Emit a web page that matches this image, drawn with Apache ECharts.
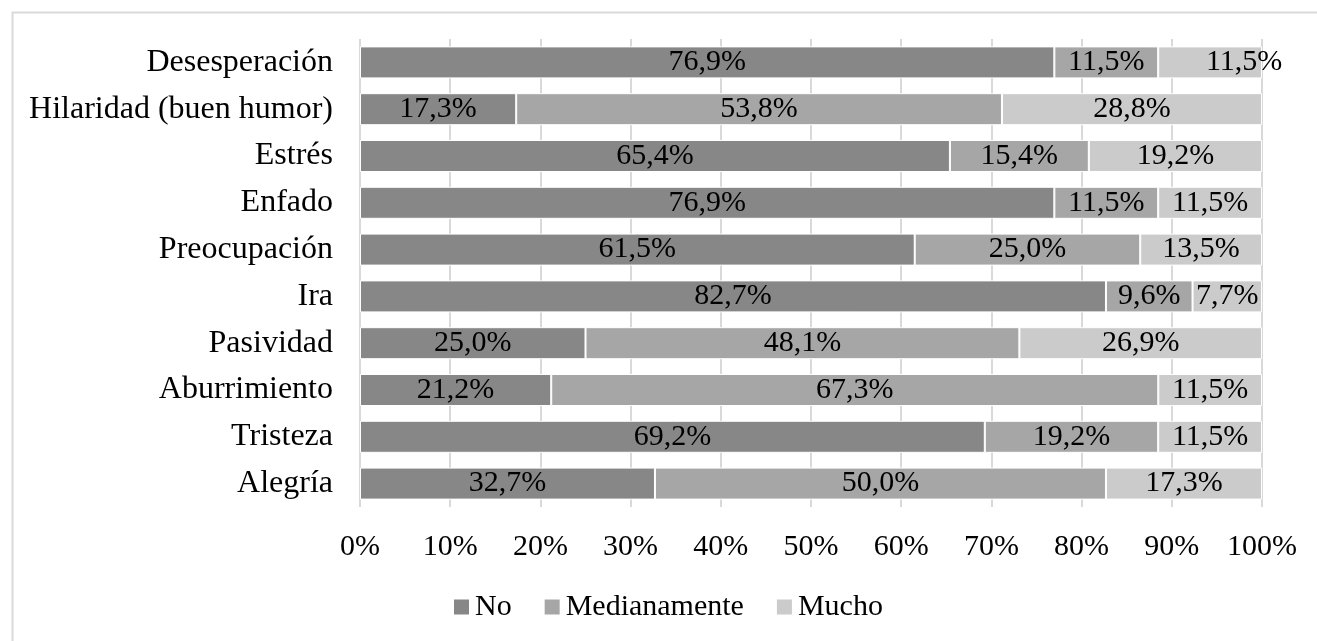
<!DOCTYPE html>
<html>
<head>
<meta charset="utf-8">
<script src="https://cdn.jsdelivr.net/npm/echarts@6/dist/echarts.min.js"></script>
<style>html,body{margin:0;padding:0;background:#fff;}#c{width:1317px;height:641px;}</style>
</head>
<body>
<div id="c"></div>
<script>
var categories = ['Alegría','Tristeza','Aburrimiento','Pasividad','Ira','Preocupación','Enfado','Estrés','Hilaridad (buen humor)','Desesperación'];
var seriesNames = ['No','Medianamente','Mucho'];
var noValues = [32.7, 69.2, 21.2, 25.0, 82.7, 61.5, 76.9, 65.4, 17.3, 76.9];
var medValues = [50.0, 19.2, 67.3, 48.1, 9.6, 25.0, 11.5, 15.4, 53.8, 11.5];
var muchoValues = [17.3, 11.5, 11.5, 26.9, 7.7, 13.5, 11.5, 19.2, 28.8, 11.5];
var xTicks = [0,10,20,30,40,50,60,70,80,90,100];

var FONT = "'Liberation Serif','Times New Roman',serif";
var colors = ['#878787','#a6a6a6','#cbcbcb'];
var raw = [noValues, medValues, muchoValues];
var totals = categories.map(function(_, i){ return noValues[i] + medValues[i] + muchoValues[i]; });

function fmt(v){ return v.toFixed(1).replace('.', ',') + '%'; }

var series = raw.map(function(arr, s){
  return {
    name: seriesNames[s],
    type: 'bar',
    stack: 'total',
    barWidth: 32,
    itemStyle: { color: colors[s], borderColor: '#ffffff', borderWidth: 1 },
    label: {
      show: true, position: 'inside', color: '#000', fontFamily: FONT, fontSize: 30,
      formatter: function(p){ return fmt(arr[p.dataIndex]); }
    },
    data: arr.map(function(v, i){
      var d = { value: v / totals[i] * 100 };
      if (s === 2 && i === 9) { d.label = { offset: [34, 0] }; }
      return d;
    })
  };
});

var chart = echarts.init(document.getElementById('c'), null, {renderer: 'canvas'});
chart.setOption({
  animation: false,
  backgroundColor: '#fff',
  graphic: [{
    type: 'rect', left: 10, top: 10, z: -1,
    shape: { width: 1400, height: 700 },
    style: { fill: 'none', stroke: '#d9d9d9', lineWidth: 2 }
  }],
  grid: { left: 360, right: 55, top: 39, height: 468, containLabel: false },
  legend: {
    data: seriesNames, left: 447, top: 587,
    icon: 'rect', itemWidth: 17, itemHeight: 17, itemGap: 31,
    textStyle: { fontFamily: FONT, fontSize: 30, color: '#000' }
  },
  xAxis: {
    type: 'value', min: xTicks[0], max: xTicks[xTicks.length-1], interval: 10,
    axisLine: { show: false }, axisTick: { show: false },
    splitLine: { show: true, lineStyle: { color: '#d9d9d9', width: 2 } },
    axisLabel: { formatter: '{value}%', fontFamily: FONT, fontSize: 30, color: '#000', margin: 25 }
  },
  yAxis: {
    type: 'category', data: categories,
    axisLine: { show: false }, axisTick: { show: false },
    axisLabel: { fontFamily: FONT, fontSize: 32, color: '#000', margin: 27 }
  },
  series: series
});
</script>
</body>
</html>
